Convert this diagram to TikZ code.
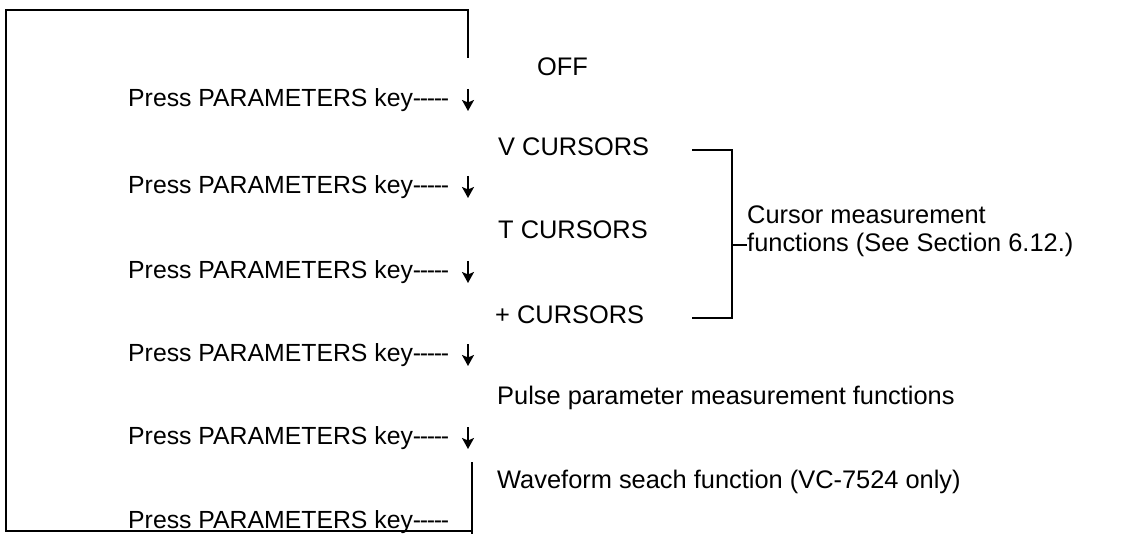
\documentclass[tikz,border=0pt]{standalone}
\usepackage{fontspec}
\setmainfont{Liberation Sans}
\usetikzlibrary{arrows.meta}
\newcommand\keydashes{-\kern-1.3pt-\kern-1.3pt-\kern-1.3pt-\kern-1.3pt-}
\begin{document}
\begin{tikzpicture}[x=1pt,y=-1pt,
  txt/.style={anchor=west,inner sep=0pt,font=\fontsize{25.4}{30}\selectfont},
  keytxt/.style={anchor=west,inner sep=0pt,font=\fontsize{24.8}{30}\selectfont},
  ln/.style={line width=1.6pt},
  arr/.style={line width=1.7pt,-{Stealth[length=11pt,width=12pt,inset=2.5pt]}}]
\useasboundingbox (0,0) rectangle (1134,534);
% states
\node[txt] (off) at (537,67) {OFF};
\node[txt] (vc) at (498,147) {V CURSORS};
\node[txt] (tc) at (498,230) {T CURSORS};
\node[txt] (pc) at (495,315) {+ CURSORS};
\node[txt] (pulse) at (497,398) {Pulse parameter measurement functions};
\node[txt] (wave) at (497,482) {Waveform seach function (VC-7524 only)};
% key presses
\foreach \i/\y in {1/100,2/187,3/272,4/355,5/438,6/522}{
  \node[keytxt] (p\i) at (128,\y) {Press PARAMETERS key\keydashes};
}
\foreach \i/\y in {1/100,2/187,3/272,4/355,5/438}{
  \coordinate (a\i) at (468,\y-11);
  \coordinate (b\i) at (468,\y+11);
  \draw[arr] (a\i) -- (b\i);
}
% bracket
\coordinate (bt1) at (692,150);
\coordinate (bt2) at (732,150);
\coordinate (bb1) at (692,318);
\coordinate (bb2) at (732,318);
\coordinate (bm) at (732,245);
\draw[ln] (bt1) -- (bt2) -- (bb2) -- (bb1);
\node[txt] (cm1) at (747,215) {Cursor measurement};
\node[txt] (cm2) at (747,245) {functions (See Section 6.12.)};
\draw[line width=1.2pt] (bm) -- (cm2.west);
% return loop
\coordinate (l0) at (472,462);
\coordinate (l1) at (472,534);
\coordinate (l2) at (6,531);
\coordinate (l3) at (6,10);
\coordinate (l4) at (468,10);
\coordinate (l5) at (468,58);
\draw[ln] (l0) -- (l1);
\draw[ln] (472,531) -- (l2) -- (l3) -- (l4) -- (l5);
\end{tikzpicture}
\end{document}
